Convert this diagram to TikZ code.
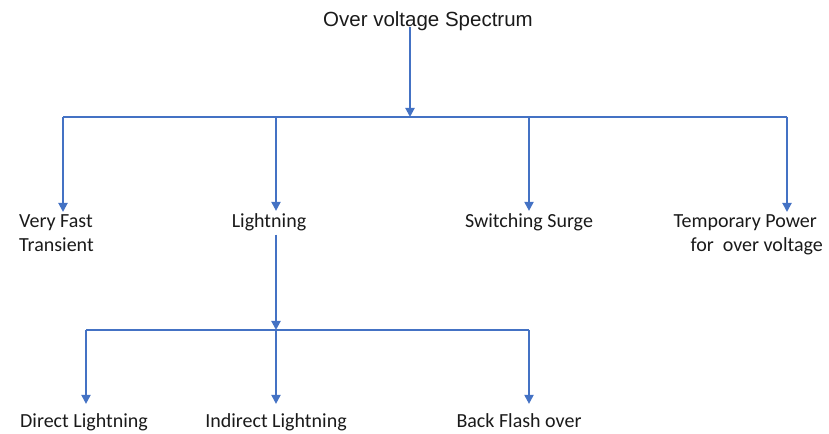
\documentclass[tikz,border=0pt]{standalone}
\usepackage{fontspec}
\setmainfont{Carlito}
\newfontfamily\titlefont{Liberation Sans}
\usetikzlibrary{arrows.meta}
\definecolor{linkblue}{HTML}{4472C4}
\definecolor{txt}{HTML}{1A1A1A}
\tikzset{
  conn/.style={draw=linkblue, line width=2bp},
  arr/.style={conn, -{Triangle[length=9bp,width=9bp]}},
  lbl/.style={inner xsep=0pt, inner ysep=3bp, text=txt, font=\fontsize{20bp}{24bp}\selectfont},
  lbltwo/.style={lbl, inner ysep=9bp},
  ttl/.style={inner sep=0pt, text=txt, font=\titlefont\fontsize{20.5bp}{24bp}\selectfont}
}
\begin{document}
\begin{tikzpicture}[x=1bp,y=-1bp]
\useasboundingbox (0,0) rectangle (829,434);
% title
\node[ttl, anchor=base] (title) at (428,27) {Over voltage Spectrum};
% first level labels
\node[lbl, anchor=base west, align=left] (vft) at (19,252) {Very Fast\\Transient};
\node[lbl, anchor=base] (light) at (269,228) {Lightning};
\node[lbl, anchor=base] (sw) at (529,228) {Switching Surge};
\node[lbl, anchor=base east, align=right] (temp) at (823,252) {Temporary Power\kern6bp\\for\ \ over voltage};
% second level labels
\node[lbltwo, anchor=base] (dl) at (84,427) {Direct Lightning};
\node[lbltwo, anchor=base] (il) at (276,427) {Indirect Lightning};
\node[lbltwo, anchor=base] (bf) at (519,427) {Back Flash over};
% junction coordinates
\coordinate (j0) at (410,117);
\coordinate (b1) at (63,117);
\coordinate (b2) at (276,117);
\coordinate (b3) at (529,117);
\coordinate (b4) at (787,117);
\coordinate (jL) at (276,330);
\coordinate (c1) at (86,330);
\coordinate (c3) at (529,330);
% connectors level 1
\draw[arr] (title.base -| j0) -- (j0);
\draw[conn] (b1) -- (b4);
\draw[arr] (b1) -- (b1 |- vft.north);
\draw[arr] (b2) -- (b2 |- light.north);
\draw[arr] (b3) -- (b3 |- sw.north);
\draw[arr] (b4) -- (b4 |- temp.north);
% connectors level 2
\draw[arr] (jL |- light.south) -- (jL);
\draw[conn] (c1) -- (c3);
\draw[arr] (c1) -- (c1 |- dl.north);
\draw[arr] (jL) -- (jL |- il.north);
\draw[arr] (c3) -- (c3 |- bf.north);
\end{tikzpicture}
\end{document}
